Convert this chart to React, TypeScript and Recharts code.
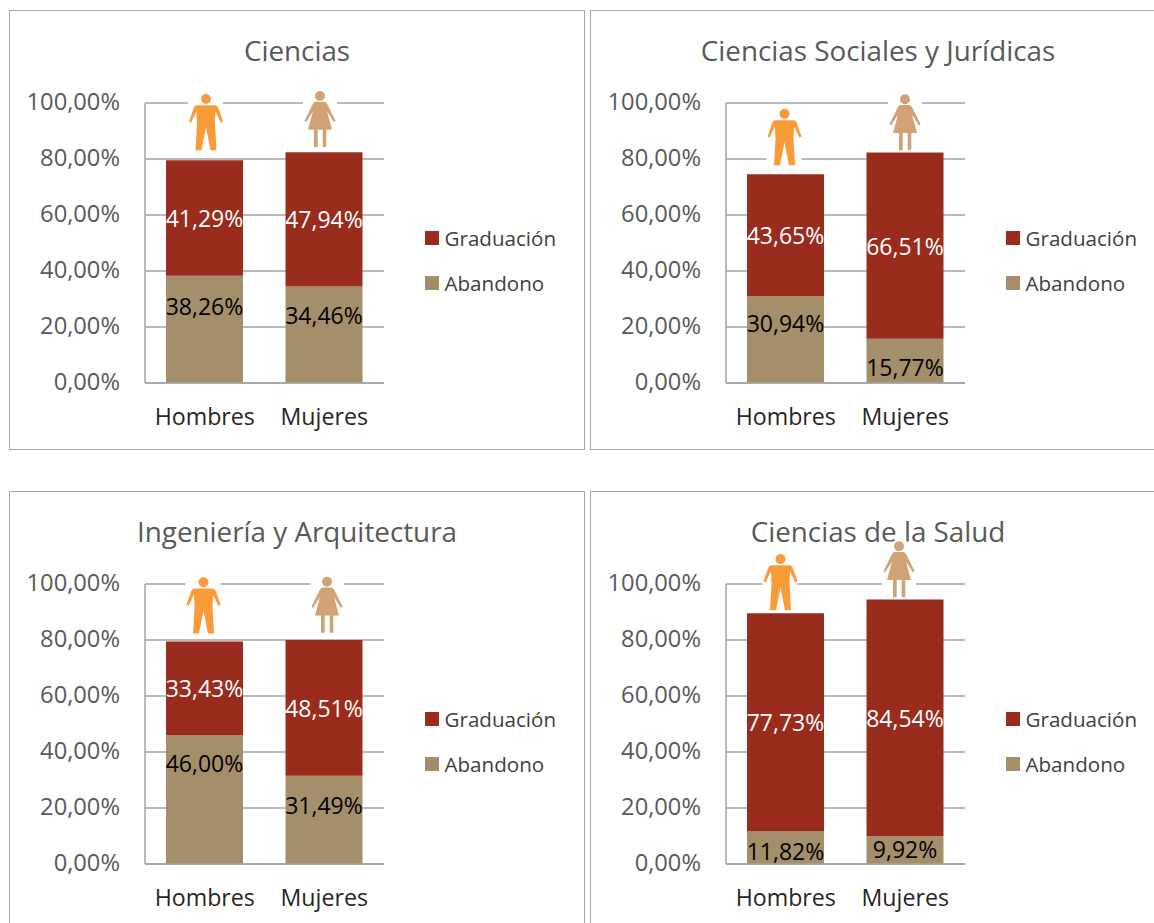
import React from 'react';
import { BarChart, Bar, XAxis, YAxis, CartesianGrid, Legend, LabelList } from 'recharts';

const categories = ['Hombres', 'Mujeres'];
const yTicks = [0, 20, 40, 60, 80, 100];

const abandonoCiencias = [38.26, 34.46];
const graduacionCiencias = [41.29, 47.94];
const abandonoSociales = [30.94, 15.77];
const graduacionSociales = [43.65, 66.51];
const abandonoIngenieria = [46.0, 31.49];
const graduacionIngenieria = [33.43, 48.51];
const abandonoSalud = [11.82, 9.92];
const graduacionSalud = [77.73, 84.54];

const GRID = '#a3a3a3';
const TEXT = '#595959';
const FONT = '"Open Sans", sans-serif';

const pct = (v: number) => v.toFixed(2).replace('.', ',') + '%';

const ManIcon = ({ x, y }: { x: number; y: number }) => (
  <g transform={`translate(${x},${y})`}>
    <rect x={-18} y={0} width={35} height={56} fill="#fff" />
    <circle cx={0} cy={4.7} r={5} fill="#fb9a38" />
    <path
      d="M-9,11 L9,11 Q11,11 12,13 L17,27 L15,28.5 L9.5,17 L9,30 L10.5,56 L4.5,56 L0,33 L-4.5,56 L-10.5,56 L-9,30 L-9.5,17 L-15,28.5 L-17,27 L-12,13 Q-11,11 -9,11 Z"
      fill="#fb9a38"
    />
  </g>
);

const WomanIcon = ({ x, y }: { x: number; y: number }) => (
  <g transform={`translate(${x},${y})`}>
    <rect x={-17} y={0} width={34} height={56} fill="#fff" />
    <circle cx={0} cy={4.7} r={5} fill="#d0a276" />
    <path
      d="M-4,10.5 L4,10.5 Q6,10.5 7,12.5 L15.5,29.5 L14,31 L7,20 L12,38.5 L6.3,38.5 L6.3,55.7 L2.7,55.7 L2.7,38.5 L-2.3,38.5 L-2.3,55.7 L-6,55.7 L-6,38.5 L-12,38.5 L-7,20 L-14,31 L-15.5,29.5 L-7,12.5 Q-6,10.5 -4,10.5 Z"
      fill="#d0a276"
    />
  </g>
);

const LegendList = ({ payload }: any) => (
  <div style={{ fontFamily: FONT, fontSize: 20.6, color: '#404040' }}>
    {[...(payload || [])].reverse().map((item: any) => (
      <div key={item.value} style={{ display: 'flex', alignItems: 'center', height: 45 }}>
        <span style={{ width: 14, height: 14, background: item.color, marginRight: 6 }} />
        <span>{item.value}</span>
      </div>
    ))}
  </div>
);

type PanelProps = {
  title: string;
  left: number;
  top: number;
  abandono: number[];
  graduacion: number[];
  labelShift: number[];
  iconGap: number[];
  iconShift: number[];
};

const Panel = ({ title, left, top, abandono, graduacion, labelShift, iconGap, iconShift }: PanelProps) => {
  const rows = categories.map((name, i) => ({ name, abandono: abandono[i], graduacion: graduacion[i] }));
  return (
    <div
      style={{
        position: 'absolute',
        left,
        top,
        width: 575.5,
        height: 440,
        boxSizing: 'border-box',
        border: '1.5px solid #a6a6a6',
        background: '#fff',
      }}
    >
      <BarChart
        width={575}
        height={439}
        data={rows}
        margin={{ top: 93, right: 50, left: 6, bottom: 15 }}
        style={{ position: 'absolute', left: -1.5, top: -1.5 }}
      >
        <text x={288} y={40} textAnchor="middle" dominantBaseline="central" fontFamily={FONT} fontSize={27.8} fill={TEXT}>
          {title}
        </text>
        <CartesianGrid vertical={false} stroke={GRID} strokeWidth={1.5} />
        <XAxis
          dataKey="name"
          height={51}
          tickSize={0}
          tickMargin={26}
          stroke={GRID}
          strokeWidth={1.5}
          tick={{ fontFamily: FONT, fontSize: 23.2, fill: '#262626' }}
        />
        <YAxis
          width={130}
          domain={[0, 100]}
          ticks={yTicks}
          tickFormatter={pct}
          tickSize={0}
          tickMargin={25}
          stroke={GRID}
          strokeWidth={1.5}
          tick={{ fontFamily: FONT, fontSize: 23.7, fill: TEXT, dy: -1 }}
        />
        <Legend
          layout="vertical"
          align="right"
          verticalAlign="middle"
          width={150}
          content={<LegendList />}
          wrapperStyle={{ left: 416, right: 'auto', top: 206, width: 150 }}
        />
        <Bar dataKey="abandono" name="Abandono" stackId="a" fill="#a58f6a" barSize={77} isAnimationActive={false}>
          <LabelList
            dataKey="abandono"
            content={(p: any) => (
              <text
                x={p.x + p.width / 2}
                y={p.y + p.height / 2 + labelShift[p.index] - 1.5}
                textAnchor="middle"
                dominantBaseline="central"
                fontFamily={FONT}
                fontSize={23}
                fill="#000"
              >
                {pct(p.value)}
              </text>
            )}
          />
        </Bar>
        <Bar dataKey="graduacion" name="Graduación" stackId="a" fill="#992c1d" barSize={77} isAnimationActive={false}>
          <LabelList
            dataKey="graduacion"
            content={(p: any) => (
              <text
                x={p.x + p.width / 2}
                y={p.y + p.height / 2}
                textAnchor="middle"
                dominantBaseline="central"
                fontFamily={FONT}
                fontSize={23}
                fill="#fff"
              >
                {pct(p.value)}
              </text>
            )}
          />
          <LabelList
            dataKey="name"
            content={(p: any) => {
              const Icon = p.index === 0 ? ManIcon : WomanIcon;
              return <Icon x={p.x + p.width / 2 + iconShift[p.index]} y={p.y - 56 - iconGap[p.index]} />;
            }}
          />
        </Bar>
      </BarChart>
    </div>
  );
};

export default function App() {
  return (
    <div style={{ position: 'absolute', left: 0, top: 0, width: 1154, height: 923, overflow: 'hidden', background: '#fff' }}>
      <Panel
        title="Ciencias"
        left={9}
        top={10}
        abandono={abandonoCiencias}
        graduacion={graduacionCiencias}
        labelShift={[-22, -18]}
        iconGap={[10, 5]}
        iconShift={[1.5, -4]}
      />
      <Panel
        title="Ciencias Sociales y Jurídicas"
        left={590}
        top={10}
        abandono={abandonoSociales}
        graduacion={graduacionSociales}
        labelShift={[-15, 8]}
        iconGap={[9, 2]}
        iconShift={[-1, 0]}
      />
      <Panel
        title="Ingeniería y Arquitectura"
        left={9}
        top={491}
        abandono={abandonoIngenieria}
        graduacion={graduacionIngenieria}
        labelShift={[-35, -13]}
        iconGap={[8, 7]}
        iconShift={[-1, 3]}
      />
      <Panel
        title="Ciencias de la Salud"
        left={590}
        top={491}
        abandono={abandonoSalud}
        graduacion={graduacionSalud}
        labelShift={[5, 0]}
        iconGap={[3, 2]}
        iconShift={[-5, -6]}
      />
    </div>
  );
}
